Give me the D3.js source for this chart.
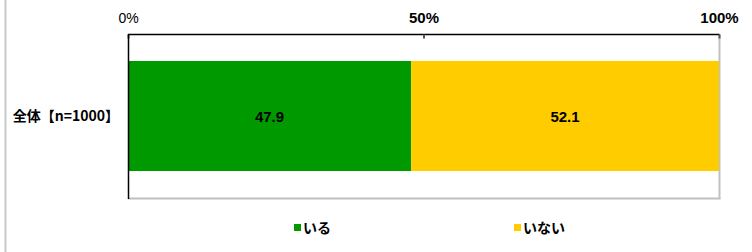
<!DOCTYPE html>
<html lang="ja">
<head>
    <meta charset="utf-8">
    <title>index.html</title>
    <script type="text/javascript" src="https://cdnjs.cloudflare.com/ajax/libs/d3/7.8.5/d3.min.js"></script>
    <style>
      body { margin: 0; background: #fff; }
      text { font-family: "Noto Sans CJK JP", "Noto Sans", sans-serif; }
    </style>
</head>
<body>
    <script type="text/javascript">
      //chart data
      var categories = ["全体【n=1000】"],
          seriesNames = ["いる", "いない"],
          seriesColors = ["#009900", "#ffcc00"],
          values = [[47.9, 52.1]],
          tickValues = [0, 50, 100],
          tickLabels = ["0%", "50%", "100%"];

      //dimensions
      var width = 752, height = 252,
          plot = {left: 128, right: 719, top: 34, bottom: 198};

      var svg = d3.select("body")
                  .append("svg")
                  .attr("width", width)
                  .attr("height", height);

      //left grey frame line
      svg.append("line")
         .attr("x1", 5.5).attr("x2", 5.5)
         .attr("y1", 0).attr("y2", height)
         .attr("stroke", "#c8c8c8")
         .attr("stroke-width", 2);

      var xScale = d3.scaleLinear()
                     .domain([0, 100])
                     .range([plot.left, plot.right]);

      var yScale = d3.scaleBand()
                     .domain(categories)
                     .range([plot.top, plot.bottom])
                     .paddingInner(0)
                     .paddingOuter(0.245);

      //stack the series
      var rows = categories.map(function(c, i) {
        var row = {category: c};
        seriesNames.forEach(function(s, j) { row[s] = values[i][j]; });
        return row;
      });
      var stacked = d3.stack().keys(seriesNames)(rows);

      //plot area shadow (right and bottom grey edges)
      svg.append("line")
         .attr("x1", plot.right + 0.5).attr("x2", plot.right + 0.5)
         .attr("y1", plot.top).attr("y2", plot.bottom + 1)
         .attr("stroke", "#c0c0c0").attr("stroke-width", 2);
      svg.append("line")
         .attr("x1", plot.left).attr("x2", plot.right + 1.5)
         .attr("y1", plot.bottom + 0.5).attr("y2", plot.bottom + 0.5)
         .attr("stroke", "#c0c0c0").attr("stroke-width", 2);

      //bars
      var groups = svg.selectAll("g.series")
                      .data(stacked)
                      .enter().append("g")
                      .attr("class", "series")
                      .attr("fill", function(d, i) { return seriesColors[i]; });

      groups.selectAll("rect")
            .data(function(d) { return d; })
            .enter().append("rect")
            .attr("x", function(d) { return xScale(d[0]); })
            .attr("y", function(d) { return yScale(d.data.category); })
            .attr("width", function(d) { return xScale(d[1]) - xScale(d[0]); })
            .attr("height", yScale.bandwidth());

      //value labels
      groups.selectAll("text")
            .data(function(d) { return d; })
            .enter().append("text")
            .attr("x", function(d) { return (xScale(d[0]) + xScale(d[1])) / 2; })
            .attr("y", function(d) { return yScale(d.data.category) + yScale.bandwidth() / 2; })
            .attr("dy", "0.4em")
            .attr("text-anchor", "middle")
            .attr("fill", "#000")
            .style("font-family", "Arial, 'Liberation Sans', sans-serif")
            .style("font-size", "15px")
            .style("font-weight", "bold")
            .text(function(d) { return (d[1] - d[0]).toFixed(1); });

      //top axis
      var xAxis = d3.axisTop(xScale)
                    .tickValues(tickValues)
                    .tickSize(-4)
                    .tickFormat(function(d, i) { return tickLabels[i]; });

      var axisG = svg.append("g")
         .attr("transform", "translate(0," + (plot.top + 0.5) + ")")
         .call(xAxis);
      axisG.select(".domain").attr("stroke", "#000").attr("stroke-width", 1.5)
           .attr("d", "M" + plot.left + ",0H" + (plot.right + 0.5));
      axisG.selectAll(".tick line").attr("stroke", "#555").attr("stroke-width", 2);
      axisG.selectAll(".tick text")
           .attr("y", -12)
           .attr("fill", "#000")
           .style("font-family", "Arial, 'Liberation Sans', sans-serif")
           .style("font-size", function(d) { return d === 0 ? "14px" : "15px"; })
           .style("font-weight", function(d) { return d === 0 ? "normal" : "bold"; });

      //left axis line
      svg.append("line")
         .attr("x1", plot.left + 0.5).attr("x2", plot.left + 0.5)
         .attr("y1", plot.top).attr("y2", plot.bottom + 1)
         .attr("stroke", "#000").attr("stroke-width", 1.5);

      //category labels
      svg.selectAll("text.cat")
         .data(categories)
         .enter().append("text")
         .attr("class", "cat")
         .attr("x", plot.left - 9)
         .attr("y", function(d) { return yScale(d) + yScale.bandwidth() / 2; })
         .attr("dy", "0.35em")
         .attr("text-anchor", "end")
         .style("font-size", "14px")
         .style("font-weight", "bold")
         .text(function(d) { return d; });

      //legend
      var legendX = [294, 514];
      var legend = svg.selectAll("g.legend")
                      .data(seriesNames)
                      .enter().append("g")
                      .attr("class", "legend")
                      .attr("transform", function(d, i) { return "translate(" + legendX[i] + ",228)"; });
      legend.append("rect")
            .attr("x", 0).attr("y", -4)
            .attr("width", 7).attr("height", 7)
            .attr("fill", function(d, i) { return seriesColors[i]; });
      legend.append("text")
            .attr("x", 9)
            .attr("dy", "0.35em")
            .style("font-size", "14px")
            .style("font-weight", "bold")
            .text(function(d) { return d; });
    </script>
</body>
</html>
